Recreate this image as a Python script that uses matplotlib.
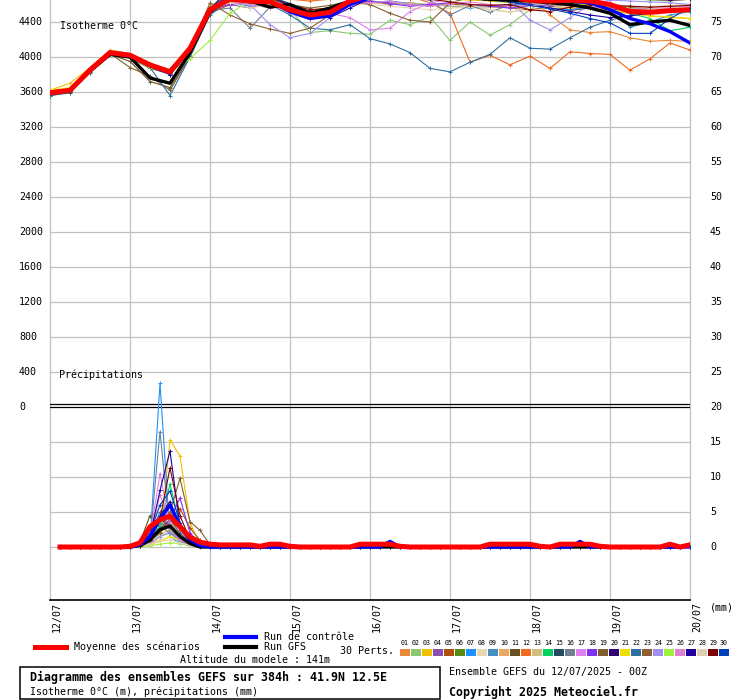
import numpy as np
import matplotlib
matplotlib.use("Agg")
import matplotlib.pyplot as plt
from matplotlib.lines import Line2D
from matplotlib.patches import Rectangle

plt.rcParams['font.family'] = ['DejaVu Sans Mono']

# ---- data -------------------------------------------------------------
days = ["12/07", "13/07", "14/07", "15/07", "16/07", "17/07", "18/07", "19/07", "20/07"]
iso_hours = np.arange(0, 193, 6)      # isotherm every 6h
rr_hours = np.arange(3, 193, 3)       # 3h precipitation

# isotherme 0°C (m)
iso_mean = [3590, 3620, 3850, 4050, 4020, 3910, 3830, 4100, 4540, 4660, 4640, 4630, 4540, 4480, 4510, 4640, 4700,
            4690, 4700, 4700, 4690, 4690, 4700, 4680, 4650, 4640, 4650, 4640, 4600, 4520, 4510, 4530, 4540]
iso_ctrl = [3600, 3620, 3860, 4050, 4010, 3900, 3820, 4090, 4550, 4680, 4700, 4640, 4520, 4440, 4470, 4600, 4680,
            4700, 4710, 4700, 4700, 4690, 4680, 4670, 4660, 4650, 4640, 4620, 4540, 4440, 4380, 4290, 4160]
iso_gfs = [3580, 3620, 3840, 4030, 4000, 3760, 3700, 4050, 4520, 4680, 4640, 4570, 4600, 4500, 4560, 4640, 4700,
           4690, 4700, 4700, 4680, 4670, 4660, 4650, 4640, 4620, 4600, 4560, 4500, 4370, 4400, 4420, 4360]

iso_p01 = [3610, 3640, 3870, 4070, 4030, 3900, 3850, 4130, 4580, 4700, 4720, 4710, 4680, 4660, 4690, 4720, 4730,
           4740, 4730, 4720, 4710, 4720, 4700, 4690, 4670, 4480, 4310, 4280, 4290, 4220, 4180, 4190, 4180]
iso_p02 = [3570, 3600, 3830, 4040, 4010, 3920, 3860, 4090, 4500, 4690, 4680, 4640, 4540, 4280, 4300, 4270, 4260,
           4420, 4370, 4460, 4190, 4400, 4250, 4370, 4540, 4680, 4700, 4690, 4680, 4670, 4650, 4640, 4660]
iso_p03 = [3620, 3700, 3880, 4080, 4040, 3930, 3850, 4120, 4560, 4680, 4700, 4690, 4580, 4500, 4540, 4620, 4680,
           4700, 4690, 4680, 4660, 4650, 4640, 4620, 4600, 4590, 4560, 4560, 4520, 4500, 4470, 4450, 4440]
iso_p04 = [3580, 3610, 3850, 4060, 4030, 3920, 3840, 4100, 4550, 4600, 4560, 4620, 4500, 4430, 4520, 4600, 4640,
           4620, 4600, 4580, 4620, 4600, 4570, 4590, 4610, 4580, 4540, 4560, 4580, 4540, 4520, 4560, 4570]
iso_p05 = [3600, 3620, 3860, 4040, 3990, 3870, 3810, 4060, 4500, 4600, 4650, 4600, 4560, 4500, 4560, 4620, 4640,
           4600, 4620, 4590, 4610, 4580, 4600, 4560, 4540, 4570, 4530, 4560, 4540, 4500, 4520, 4560, 4580]
iso_p06 = [3590, 3630, 3840, 4050, 4020, 3910, 3820, 4110, 4560, 4760, 4790, 4800, 4760, 4720, 4740, 4780, 4820,
           4830, 4840, 4820, 4800, 4810, 4800, 4790, 4770, 4750, 4740, 4730, 4720, 4700, 4690, 4680, 4700]
iso_p07 = [3610, 3620, 3860, 4070, 4040, 3900, 3820, 4120, 4570, 4620, 4580, 4620, 4600, 4520, 4540, 4600, 4620,
           4640, 4610, 4600, 4580, 4560, 4580, 4600, 4590, 4560, 4540, 4570, 4550, 4530, 4520, 4540, 4560]
iso_p08 = [3600, 3640, 3870, 4060, 4020, 3900, 3850, 4090, 4520, 4640, 4600, 4650, 4560, 4470, 4510, 4600, 4600,
           4580, 4560, 4540, 4560, 4570, 4540, 4520, 4530, 4560, 4580, 4590, 4560, 4570, 4580, 4590, 4600]
iso_p09 = [3590, 3610, 3850, 4040, 4010, 3880, 3810, 4080, 4530, 4670, 4690, 4700, 4580, 4490, 4530, 4620, 4680,
           4690, 4700, 4700, 4690, 4690, 4680, 4670, 4660, 4650, 4640, 4620, 4590, 4340, 4400, 4480, 4520]
iso_p10 = [3570, 3600, 3830, 4030, 4000, 3890, 3830, 4070, 4510, 4760, 4780, 4760, 4720, 4680, 4700, 4760, 4800,
           4810, 4820, 4800, 4790, 4800, 4790, 4780, 4760, 4740, 4720, 4700, 4690, 4670, 4660, 4650, 4660]
iso_p11 = [3600, 3610, 3840, 4030, 3950, 3720, 3650, 4000, 4500, 4660, 4680, 4670, 4580, 4500, 4540, 4620, 4680,
           4690, 4700, 4690, 4680, 4690, 4680, 4670, 4660, 4640, 4620, 4600, 4590, 4570, 4560, 4560, 4570]
iso_p12 = [3580, 3610, 3840, 4040, 4030, 3920, 3840, 4090, 4520, 4680, 4700, 4690, 4660, 4640, 4660, 4700, 4720,
           4720, 4690, 4620, 4500, 3940, 4020, 3910, 4010, 3870, 4060, 4040, 4030, 3850, 3980, 4160, 4080]
iso_p13 = [3610, 3630, 3870, 4070, 4040, 3920, 3860, 4110, 4560, 4620, 4600, 4640, 4600, 4520, 4550, 4630, 4620,
           4600, 4620, 4600, 4580, 4590, 4570, 4560, 4580, 4600, 4580, 4560, 4560, 4540, 4550, 4560, 4560]
iso_p14 = [3590, 3620, 3860, 4060, 4020, 3900, 3840, 4100, 4550, 4690, 4700, 4690, 4590, 4500, 4540, 4630, 4690,
           4700, 4700, 4690, 4690, 4680, 4680, 4670, 4660, 4640, 4620, 4600, 4570, 4500, 4440, 4300, 4340]
iso_p15 = [3560, 3590, 3820, 4020, 3990, 3880, 3800, 4070, 4510, 4770, 4790, 4780, 4740, 4700, 4720, 4770, 4800,
           4810, 4820, 4810, 4800, 4810, 4800, 4790, 4770, 4750, 4730, 4710, 4700, 4680, 4670, 4680, 4690]
iso_p16 = [3600, 3620, 3850, 4050, 4010, 3890, 3820, 4080, 4530, 4560, 4330, 4570, 4600, 4520, 4560, 4620, 4660,
           4680, 4670, 4650, 4480, 4590, 4510, 4600, 4640, 4650, 4630, 4620, 4600, 4580, 4560, 4560, 4580]
iso_p17 = [3610, 3630, 3860, 4060, 4020, 3910, 3840, 4100, 4560, 4690, 4700, 4680, 4580, 4520, 4500, 4450, 4310,
           4330, 4520, 4620, 4660, 4680, 4690, 4680, 4670, 4650, 4640, 4620, 4600, 4580, 4560, 4570, 4580]
iso_p18 = [3590, 3620, 3850, 4050, 4010, 3900, 3830, 4090, 4540, 4600, 4620, 4580, 4570, 4470, 4500, 4600, 4640,
           4610, 4580, 4600, 4620, 4600, 4580, 4560, 4580, 4600, 4590, 4570, 4550, 4540, 4550, 4540, 4560]
iso_p19 = [3580, 3600, 3840, 4040, 3880, 3780, 3620, 4010, 4510, 4670, 4680, 4660, 4600, 4560, 4590, 4640, 4600,
           4500, 4420, 4400, 4620, 4680, 4680, 4670, 4650, 4640, 4620, 4600, 4580, 4560, 4550, 4550, 4570]
iso_p20 = [3600, 3620, 3850, 4050, 4020, 3910, 3830, 4100, 4550, 4780, 4800, 4790, 4750, 4710, 4730, 4780, 4810,
           4820, 4830, 4820, 4810, 4800, 4790, 4780, 4770, 4750, 4730, 4710, 4690, 4670, 4660, 4650, 4660]
iso_p21 = [3620, 3650, 3870, 4060, 4030, 3920, 3850, 4110, 4570, 4690, 4700, 4700, 4610, 4520, 4560, 4630, 4690,
           4700, 4690, 4680, 4680, 4670, 4660, 4650, 4630, 4610, 4590, 4560, 4540, 4500, 4470, 4460, 4440]
iso_p22 = [3560, 3600, 3830, 4040, 4000, 3880, 3560, 4000, 4480, 4650, 4620, 4600, 4480, 4330, 4310, 4370, 4210,
           4150, 4050, 3870, 3830, 3940, 4030, 4220, 4100, 4090, 4220, 4340, 4420, 4480, 4540, 4560, 4540]
iso_p23 = [3590, 3610, 3850, 4050, 4010, 3900, 3820, 4090, 4620, 4480, 4380, 4320, 4270, 4330, 4480, 4610, 4680,
           4690, 4690, 4680, 4680, 4670, 4660, 4650, 4640, 4620, 4600, 4590, 4570, 4550, 4540, 4540, 4550]
iso_p24 = [3600, 3620, 3850, 4040, 4000, 3890, 3820, 4080, 4530, 4650, 4600, 4370, 4220, 4270, 4450, 4600, 4680,
           4690, 4700, 4690, 4690, 4680, 4670, 4640, 4420, 4310, 4450, 4600, 4650, 4640, 4630, 4620, 4600]
iso_p25 = [3580, 3610, 3840, 4030, 3990, 3880, 3820, 3980, 4190, 4500, 4640, 4690, 4600, 4510, 4550, 4620, 4680,
           4690, 4690, 4690, 4680, 4680, 4670, 4660, 4640, 4620, 4600, 4600, 4580, 4560, 4540, 4550, 4560]
iso_p26 = [3590, 3620, 3850, 4050, 4010, 3900, 3830, 4090, 4540, 4620, 4600, 4560, 4590, 4490, 4520, 4610, 4620,
           4640, 4600, 4580, 4610, 4630, 4600, 4580, 4600, 4620, 4590, 4570, 4560, 4550, 4550, 4560, 4560]
iso_p27 = [3600, 3630, 3860, 4060, 4020, 3900, 3800, 4080, 4540, 4680, 4700, 4690, 4580, 4500, 4450, 4560, 4670,
           4690, 4700, 4690, 4680, 4670, 4660, 4630, 4600, 4560, 4520, 4480, 4450, 4470, 4500, 4540, 4560]
iso_p28 = [3610, 3630, 3860, 4060, 4030, 3910, 3840, 4100, 4540, 4620, 4560, 4600, 4580, 4520, 4550, 4620, 4680,
           4690, 4680, 4660, 4640, 4600, 4540, 4510, 4580, 4620, 4630, 4620, 4600, 4580, 4560, 4560, 4570]
iso_p29 = [3590, 3610, 3850, 4050, 4010, 3900, 3820, 4090, 4550, 4680, 4690, 4680, 4600, 4540, 4560, 4620, 4690,
           4690, 4680, 4660, 4630, 4600, 4590, 4600, 4540, 4520, 4570, 4600, 4590, 4580, 4570, 4580, 4590]
iso_p30 = [3600, 3620, 3860, 4060, 4020, 3910, 3830, 4100, 4550, 4690, 4700, 4690, 4610, 4510, 4540, 4620, 4680,
           4690, 4690, 4680, 4670, 4660, 4650, 4630, 4590, 4550, 4500, 4440, 4390, 4270, 4270, 4440, 4560]

# précipitations (mm / 3h), full runs for mean, control and GFS
rr_mean = [0, 0, 0, 0, 0, 0,
           0, 0.1, 0.6, 2.9, 3.9, 4.4, 2.9, 1.4, 0.7, 0.4, 0.3,
           0.3, 0.3, 0.3, 0.1, 0.4, 0.4, 0.1, 0, 0, 0, 0, 0, 0,
           0.4, 0.4, 0.4, 0.4, 0.1, 0, 0, 0, 0, 0, 0, 0, 0,
           0.4, 0.4, 0.4, 0.4, 0.4, 0.1, 0, 0.4, 0.4, 0.4, 0.4, 0.1,
           0, 0, 0, 0, 0, 0, 0.4, 0, 0.3]
rr_ctrl = [0, 0, 0, 0, 0, 0,
           0, 0, 0.3, 1.5, 4.0, 6.0, 3.0, 1.0, 0.2, 0, 0,
           0, 0, 0, 0, 0, 0, 0, 0, 0, 0, 0, 0, 0,
           0, 0, 0, 0.8, 0, 0, 0, 0, 0, 0, 0, 0, 0,
           0, 0, 0, 0, 0, 0, 0, 0, 0, 0.8, 0, 0,
           0, 0, 0, 0, 0, 0, 0, 0, 0]
rr_gfs = [0, 0, 0, 0, 0, 0,
          0, 0, 0.2, 1.0, 2.5, 3.0, 1.5, 0.5, 0, 0, 0,
          0, 0, 0, 0, 0, 0, 0, 0, 0, 0, 0, 0, 0,
          0, 0, 0, 0, 0, 0, 0, 0, 0, 0, 0, 0, 0,
          0, 0, 0, 0, 0, 0, 0, 0, 0, 0, 0, 0,
          0, 0, 0, 0, 0, 0, 0, 0, 0.4]

# perturbations: only the rainy window 13/07 (21h .. 51h) is non zero
rr_p01 = [0, 0, 0.2, 1.0, 2.5, 3.5, 2.0, 0.8, 0.3, 0, 0]
rr_p02 = [0, 0, 0.1, 0.5, 1.5, 2.0, 1.2, 0.5, 0.1, 0, 0]
rr_p03 = [0, 0, 0.2, 0.5, 1.0, 15.3, 13.0, 3.5, 0.3, 0, 0]
rr_p04 = [0, 0, 0.3, 1.2, 3.0, 4.5, 2.5, 1.0, 0.2, 0, 0]
rr_p05 = [0, 0, 0.2, 1.0, 2.0, 4.0, 5.5, 2.7, 1.0, 0.2, 0]
rr_p06 = [0, 0, 0.1, 0.8, 2.2, 3.0, 1.5, 0.5, 0, 0, 0]
rr_p07 = [0, 0, 0.3, 0.8, 23.4, 1.5, 0.5, 0.2, 0, 0, 0]
rr_p08 = [0, 0, 0.1, 0.4, 1.0, 1.5, 0.8, 0.3, 0, 0, 0]
rr_p09 = [0, 0, 0.2, 1.5, 3.5, 2.5, 1.0, 0.4, 0, 0, 0]
rr_p10 = [0, 0, 0.2, 0.8, 2.0, 6.0, 3.0, 1.0, 0.2, 0, 0]
rr_p11 = [0, 0.2, 0.7, 4.5, 3.0, 2.0, 1.5, 1.0, 0.5, 0.1, 0]
rr_p12 = [0, 0, 0.2, 1.0, 4.0, 5.0, 2.5, 0.8, 0.1, 0, 0]
rr_p13 = [0, 0, 0.1, 0.6, 1.8, 2.5, 1.2, 0.4, 0, 0, 0]
rr_p14 = [0, 0, 0.2, 1.0, 3.0, 9.0, 3.0, 1.0, 0.2, 0, 0]
rr_p15 = [0, 0, 0.3, 1.5, 4.0, 3.0, 1.5, 0.5, 0, 0, 0]
rr_p16 = [0, 0, 0.5, 1.0, 16.5, 2.0, 0.8, 0.3, 0, 0, 0]
rr_p17 = [0, 0, 0.3, 1.5, 10.5, 3.0, 1.0, 0.4, 0, 0, 0]
rr_p18 = [0, 0, 0.2, 1.0, 2.5, 4.0, 7.0, 2.0, 0.5, 0, 0]
rr_p19 = [0, 0, 0.3, 1.0, 2.0, 5.0, 9.8, 3.6, 2.4, 0.3, 0]
rr_p20 = [0, 0, 0.2, 1.2, 4.5, 6.5, 3.0, 1.0, 0.2, 0, 0]
rr_p21 = [0, 0, 0.1, 0.3, 0.8, 1.5, 1.0, 0.4, 0.1, 0, 0]
rr_p22 = [0, 0, 0.3, 1.8, 5.0, 4.0, 2.0, 0.6, 0.1, 0, 0]
rr_p23 = [0, 0, 0.2, 0.8, 2.5, 3.5, 2.8, 1.2, 0.3, 0, 0]
rr_p24 = [0, 0, 0.1, 0.5, 1.5, 2.2, 1.0, 0.3, 0, 0, 0]
rr_p25 = [0, 0, 0, 0.2, 0.4, 0.6, 0.5, 0.2, 0, 0, 0]
rr_p26 = [0, 0, 0.3, 1.5, 7.5, 3.5, 1.2, 0.4, 0, 0, 0]
rr_p27 = [0, 0, 0.2, 1.5, 8.1, 13.7, 3.0, 1.0, 0.2, 0, 0]
rr_p28 = [0, 0, 0.1, 0.4, 0.8, 1.0, 0.6, 0.2, 0, 0, 0]
rr_p29 = [0, 0, 0.2, 1.0, 4.0, 11.3, 4.5, 1.0, 0.2, 0, 0]
rr_p30 = [0, 0, 0.3, 2.0, 6.0, 8.0, 3.5, 1.0, 0.2, 0, 0]

pert_colors = ["#e8883a", "#8cc870", "#f0c000", "#8c50b0", "#b05010", "#5a8a10", "#1e90ff", "#e8d8b0",
               "#4090c0", "#e8a860", "#6a5020", "#f06a20", "#d0c080", "#00d060", "#284a60", "#708090",
               "#e080f0", "#8030f0", "#806030", "#300070", "#f0e000", "#3070a0", "#906030", "#a090f0",
               "#a0f040", "#e080d0", "#2000a0", "#e0d0b0", "#800000", "#0040c0"]

pert_iso = [iso_p01, iso_p02, iso_p03, iso_p04, iso_p05, iso_p06, iso_p07, iso_p08, iso_p09, iso_p10,
            iso_p11, iso_p12, iso_p13, iso_p14, iso_p15, iso_p16, iso_p17, iso_p18, iso_p19, iso_p20,
            iso_p21, iso_p22, iso_p23, iso_p24, iso_p25, iso_p26, iso_p27, iso_p28, iso_p29, iso_p30]
pert_rr = [rr_p01, rr_p02, rr_p03, rr_p04, rr_p05, rr_p06, rr_p07, rr_p08, rr_p09, rr_p10,
           rr_p11, rr_p12, rr_p13, rr_p14, rr_p15, rr_p16, rr_p17, rr_p18, rr_p19, rr_p20,
           rr_p21, rr_p22, rr_p23, rr_p24, rr_p25, rr_p26, rr_p27, rr_p28, rr_p29, rr_p30]


# ---- figure -------------------------------------------------------------
W, H = 740, 700
fig = plt.figure(figsize=(W / 100, H / 100), dpi=100)


def fx(px):
    return px / W


def fy(py):
    return 1 - py / H


def iso(m):
    # isotherm shares the mm scale: 0 m -> 20, 400 m -> 5 units
    return 20 + np.asarray(m, dtype=float) / 80


def full_rr(win):
    return [0] * 6 + list(win) + [0] * 47


ax = fig.add_axes([fx(50), fy(600), 640 / W, 600 / H])
ax.set_xlim(0, 192)
ax.set_ylim(-53 / 7, 547 / 7)
for s in ["top", "left", "right"]:
    ax.spines[s].set_visible(False)
ax.spines["bottom"].set_linewidth(1.2)
ax.set_xticks([])
ax.set_yticks([])

grid = "#c0c0c0"
for k in range(len(days)):
    ax.axvline(24 * k, color=grid, lw=0.9, zorder=0, clip_on=False)
for v in range(0, 80, 5):
    if v != 20:
        ax.axhline(v, color=grid, lw=0.9, zorder=0)
ax.axhline(20.07, color="black", lw=0.9, zorder=1)
ax.axhline(20.36, color="black", lw=0.9, zorder=1)

# ensemble members
for vals, c in zip(pert_iso, pert_colors):
    ax.plot(iso_hours, iso(vals), color=c, lw=0.8, marker="+", ms=3, mew=0.7, zorder=2)
for vals, c in zip(pert_rr, pert_colors):
    ax.plot(rr_hours, full_rr(vals), color=c, lw=0.8, marker="+", ms=3, mew=0.7, zorder=2)

ax.plot(iso_hours, iso(iso_gfs), color="black", lw=2.4, zorder=3)
ax.plot(iso_hours, iso(iso_ctrl), color="#0000ff", lw=2.4, zorder=4)
ax.plot(iso_hours, iso(iso_mean), color="#ff0000", lw=3.6, zorder=5)
ax.plot(rr_hours, rr_gfs, color="black", lw=2.4, zorder=3)
ax.plot(rr_hours, rr_ctrl, color="#0000ff", lw=2.4, zorder=4)
ax.plot(rr_hours, rr_mean, color="#ff0000", lw=3.6, zorder=5)

fs = 7.2
# left labels (m) and right labels (mm)
for m in range(0, 4401, 400):
    ax.annotate(str(m), xy=(0, iso(m)), xycoords=("axes fraction", "data"), xytext=(-31, 0),
                textcoords="offset pixels", ha="left", va="center", fontsize=fs)
for v in range(0, 76, 5):
    ax.annotate(str(v), xy=(1, v), xycoords=("axes fraction", "data"), xytext=(20, 0),
                textcoords="offset pixels", ha="left", va="center", fontsize=fs)
for k, d in enumerate(days):
    ax.annotate(d, xy=(24 * k, 0), xycoords=("data", "axes fraction"), xytext=(7, -2),
                textcoords="offset pixels", ha="center", va="top", rotation=90, fontsize=fs)

fig.text(fx(60), fy(26), "Isotherme 0°C", fontsize=fs, va="center")
fig.text(fx(59), fy(375), "Précipitations", fontsize=fs, va="center")
fig.text(fx(710), fy(607), "(mm)", fontsize=fs, va="center")

# legend
fig.add_artist(Line2D([fx(35), fx(66)], [fy(647), fy(647)], color="#ff0000", lw=3.6))
fig.text(fx(74), fy(647), "Moyenne des scénarios", fontsize=fs, va="center")
fig.add_artist(Line2D([fx(225), fx(256)], [fy(637), fy(637)], color="#0000ff", lw=3.0))
fig.text(fx(264), fy(637), "Run de contrôle", fontsize=fs, va="center")
fig.add_artist(Line2D([fx(225), fx(256)], [fy(647), fy(647)], color="black", lw=3.0))
fig.text(fx(264), fy(647), "Run GFS", fontsize=fs, va="center")
fig.text(fx(180), fy(660), "Altitude du modele : 141m", fontsize=fs, va="center")
fig.text(fx(340), fy(651), "30 Perts.", fontsize=fs, va="center")
for k, c in enumerate(pert_colors):
    x0 = 400 + 11 * k
    fig.add_artist(Rectangle((fx(x0), fy(656)), 10 / W, 7 / H, transform=fig.transFigure,
                             facecolor=c, edgecolor="none"))
    fig.text(fx(x0 + 5), fy(643), "%02d" % (k + 1), fontsize=4.8, ha="center", va="center")

# bottom boxes
fig.add_artist(Rectangle((fx(20), fy(699)), 420 / W, 32 / H, transform=fig.transFigure,
                         facecolor="none", edgecolor="black", lw=1.1))
fig.text(fx(30), fy(677), "Diagramme des ensembles GEFS sur 384h : 41.9N 12.5E",
         fontsize=8.4, fontweight="bold", va="center")
fig.text(fx(30), fy(692), "Isotherme 0°C (m), précipitations (mm)", fontsize=fs, va="center")
fig.text(fx(449), fy(672), "Ensemble GEFS du 12/07/2025 - 00Z", fontsize=fs, va="center")
fig.text(fx(449), fy(692), "Copyright 2025 Meteociel.fr", fontsize=8.4, fontweight="bold", va="center")

fig.savefig("out.png", dpi=100)
